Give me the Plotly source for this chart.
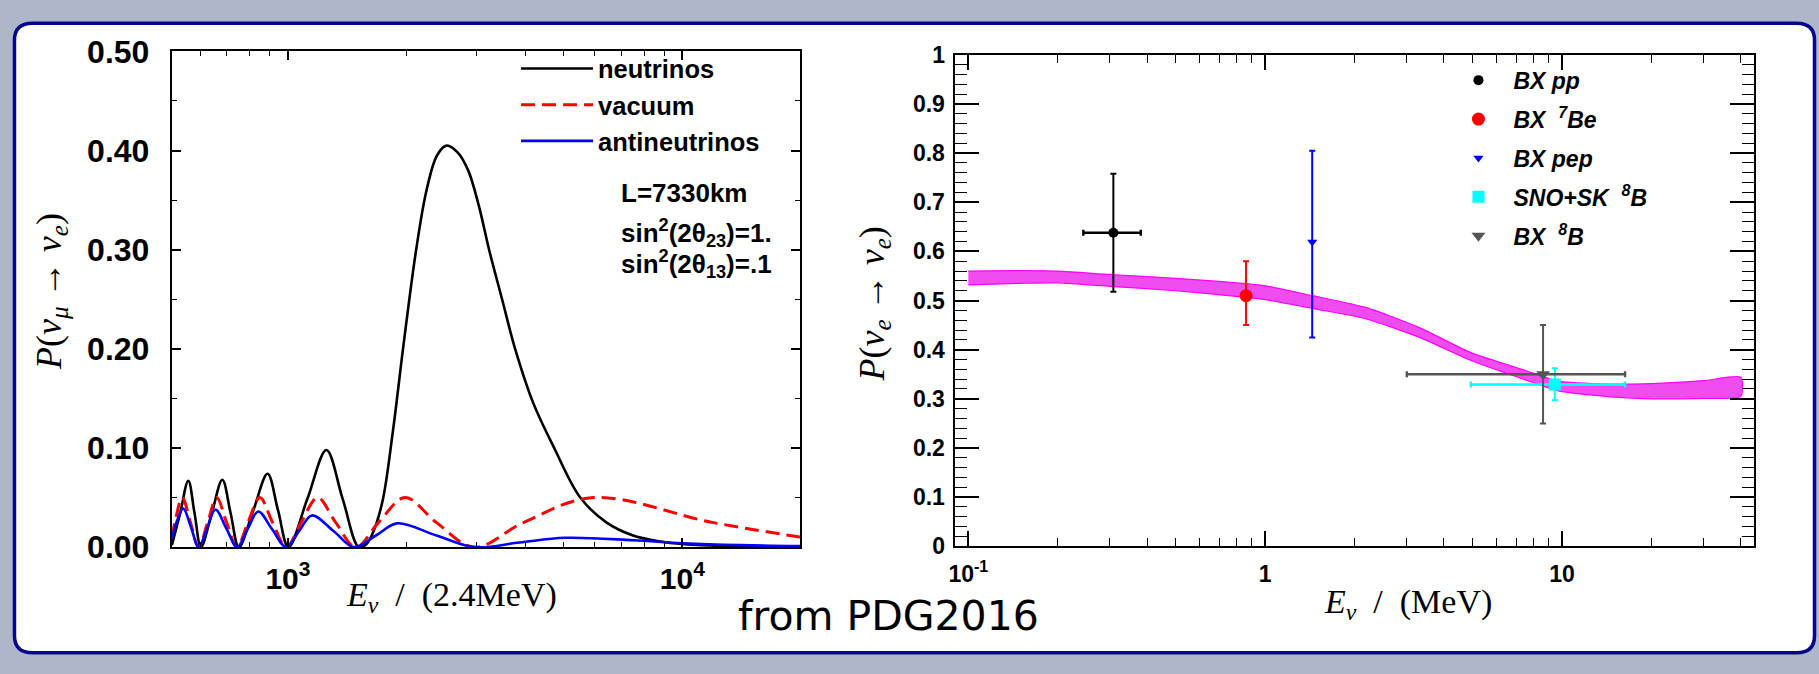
import plotly.graph_objects as go

# ---------------- data: left panel (P(nu_mu -> nu_e) vs E / 2.4 MeV) ----------------
nu_E = [508, 533, 559, 580, 602, 641, 682, 716, 751, 817, 888, 944, 1003, 1121, 1252, 1376,
        1512, 1580, 1632, 1734, 1843, 1958, 2114, 2246, 2387, 2521, 2696, 2864, 3045, 3236,
        3491, 3767, 4191, 4732, 5510, 6415, 7468, 8695, 10122, 13722, 20000]
nu_P = [0.002, 0.034, 0.067, 0.034, 0.0, 0.034, 0.068, 0.034, 0.0, 0.037, 0.074, 0.037, 0.0,
        0.049, 0.098, 0.049, 0.0, 0.003, 0.012, 0.045, 0.115, 0.200, 0.300, 0.360, 0.395,
        0.405, 0.398, 0.380, 0.345, 0.300, 0.250, 0.200, 0.145, 0.100, 0.050, 0.025, 0.012,
        0.006, 0.003, 0.001, 0.0]

vac_E = [508, 517, 540, 566, 594, 626, 660, 699, 743, 792, 849, 914, 991, 1081, 1189, 1321,
         1486, 1698, 1981, 2377, 2971, 3962, 5943, 11886, 20000]
vac_P = [0.010, 0.025, 0.050, 0.025, 0.0, 0.025, 0.050, 0.025, 0.0, 0.025, 0.050, 0.025, 0.0,
         0.025, 0.050, 0.025, 0.0, 0.025, 0.050, 0.025, 0.0, 0.025, 0.050, 0.025, 0.010]

anu_E = [508, 525, 543, 568, 594, 624, 655, 698, 743, 790, 841, 912, 990, 1067, 1150, 1307,
         1470, 1675, 1889, 2369, 2971, 3866, 5030, 7500, 10000, 14000, 20000]
anu_P = [0.009, 0.028, 0.039, 0.020, 0.0, 0.019, 0.038, 0.019, 0.0, 0.018, 0.036, 0.018, 0.0,
         0.016, 0.032, 0.016, 0.0, 0.012, 0.024, 0.012, 0.0, 0.0047, 0.0094, 0.007, 0.004,
         0.002, 0.001]

left_xticks = [1000, 10000]
left_xticktext = ["10<sup>3</sup>", "10<sup>4</sup>"]
left_xminor = [600, 700, 800, 900, 2000, 3000, 4000, 5000, 6000, 7000, 8000, 9000]

# ---------------- data: right panel (solar P(nu_e -> nu_e)) ----------------
band_E = [0.1, 0.15, 0.2, 0.3, 0.5, 0.7, 1.0, 1.44, 2.18, 3.28, 4.93, 7.41, 9.73, 14.6, 20, 30, 40]
band_hi = [0.560, 0.561, 0.560, 0.553, 0.545, 0.539, 0.530, 0.510, 0.486, 0.446, 0.394, 0.359,
           0.336, 0.330, 0.331, 0.337, 0.344]
band_lo = [0.532, 0.535, 0.536, 0.529, 0.520, 0.512, 0.502, 0.484, 0.463, 0.426, 0.378, 0.340,
           0.316, 0.304, 0.300, 0.301, 0.305]

pts_names = ["BX pp", "BX  <sup>7</sup>Be", "BX pep", "SNO+SK  <sup>8</sup>B", "BX  <sup>8</sup>B"]
pts_E = [0.308, 0.862, 1.44, 9.45, 8.63]
pts_P = [0.638, 0.510, 0.619, 0.329, 0.350]
pts_yerr_hi = [0.120, 0.070, 0.186, 0.033, 0.100]
pts_yerr_lo = [0.120, 0.060, 0.194, 0.032, 0.100]
pts_xerr_hi = [0.073, 0.0, 0.0, 6.85, 7.67]
pts_xerr_lo = [0.064, 0.0, 0.0, 4.52, 5.63]
pts_colors = ["#000000", "#ff0000", "#0000ff", "#00ffff", "#555555"]
pts_symbols = ["circle", "circle", "triangle-down", "square", "triangle-down"]
pts_sizes = [10, 13, 9, 12, 12]

right_xticks = [0.1, 1, 10]
right_xticktext = ["10<sup>-1</sup>", "1", "10"]
right_xminor = [0.2, 0.3, 0.4, 0.5, 0.6, 0.7, 0.8, 0.9, 2, 3, 4, 5, 6, 7, 8, 9, 20, 30, 40]
right_yticks = [0, 0.1, 0.2, 0.3, 0.4, 0.5, 0.6, 0.7, 0.8, 0.9, 1.0]
right_yticktext = ["0", "0.1", "0.2", "0.3", "0.4", "0.5", "0.6", "0.7", "0.8", "0.9", "1"]

# ---------------- figure ----------------
W, H = 1819, 674


def px(x):
    return x / W


def py(y):
    return 1 - y / H


fig = go.Figure()

fig.add_trace(go.Scatter(x=nu_E, y=nu_P, mode="lines", name="neutrinos",
                         line=dict(color="black", width=2.6, shape="spline", smoothing=1.0),
                         xaxis="x", yaxis="y", legend="legend"))
fig.add_trace(go.Scatter(x=vac_E, y=vac_P, mode="lines", name="vacuum",
                         line=dict(color="#ff0000", width=3, dash="14px,7px", shape="spline", smoothing=1.0),
                         xaxis="x", yaxis="y", legend="legend"))
fig.add_trace(go.Scatter(x=anu_E, y=anu_P, mode="lines", name="antineutrinos",
                         line=dict(color="#0000ff", width=2.6, shape="spline", smoothing=1.0),
                         xaxis="x", yaxis="y", legend="legend"))

# band (closed polygon)
fig.add_trace(go.Scatter(x=band_E + band_E[::-1], y=band_hi + band_lo[::-1], mode="lines",
                         fill="toself", fillcolor="#f04cf0",
                         line=dict(color="#ff00ff", width=1.2, shape="spline", smoothing=0.6),
                         xaxis="x2", yaxis="y2", showlegend=False, hoverinfo="skip"))

for i in range(len(pts_E)):
    fig.add_trace(go.Scatter(
        x=[pts_E[i]], y=[pts_P[i]], mode="markers", name=pts_names[i],
        marker=dict(color=pts_colors[i], symbol=pts_symbols[i], size=pts_sizes[i], line=dict(width=0)),
        error_y=dict(type="data", symmetric=False, array=[pts_yerr_hi[i]], arrayminus=[pts_yerr_lo[i]],
                     color=pts_colors[i], thickness=2, width=3),
        error_x=dict(type="data", symmetric=False, array=[pts_xerr_hi[i]], arrayminus=[pts_xerr_lo[i]],
                     color=pts_colors[i], thickness=2.4, width=3, visible=pts_xerr_hi[i] > 0),
        xaxis="x2", yaxis="y2", legend="legend2", legendgroup="p%d" % i))

SANS = "Liberation Sans"
bold_sans = dict(family=SANS, color="black", weight="bold")

fig.update_layout(
    width=W, height=H, margin=dict(l=0, r=0, t=0, b=0),
    paper_bgcolor="#aeb7c9", plot_bgcolor="white",
    xaxis=dict(domain=[px(165.3), px(796)], type="log", range=[2.7053, 4.298],
               tickmode="array", tickvals=left_xticks, ticktext=left_xticktext,
               ticks="inside", ticklen=9, tickwidth=1.5, tickcolor="black",
               showline=True, linecolor="black", linewidth=1.8, mirror="ticks",
               showgrid=False, zeroline=False,
               tickfont=dict(size=30, **bold_sans), ticklabelstandoff=4,
               minor=dict(tickmode="array", tickvals=left_xminor, ticks="inside", ticklen=5,
                          tickwidth=1.2, tickcolor="black", showgrid=False),
               anchor="y"),
    yaxis=dict(domain=[py(559), py(35.3)], range=[0, 0.5], tickmode="linear", tick0=0, dtick=0.1,
               tickformat=".2f", ticks="inside", ticklen=9, tickwidth=1.5, tickcolor="black",
               showline=True, linecolor="black", linewidth=1.8, mirror="ticks",
               showgrid=False, zeroline=False,
               tickfont=dict(size=32, **bold_sans), ticklabelstandoff=14,
               minor=dict(dtick=0.05, ticks="inside", ticklen=5, tickwidth=1.2, tickcolor="black",
                          showgrid=False),
               anchor="x"),
    xaxis2=dict(domain=[px(952), px(1754)], type="log", range=[-1.0438, 1.6474],
                tickmode="array", tickvals=right_xticks, ticktext=right_xticktext,
                ticks="inside", ticklen=15, tickwidth=1.5, tickcolor="black",
                showline=True, linecolor="black", linewidth=1.6, mirror="ticks",
                showgrid=False, zeroline=False,
                tickfont=dict(size=23, **bold_sans), ticklabelstandoff=6,
                minor=dict(tickmode="array", tickvals=right_xminor, ticks="inside", ticklen=8,
                           tickwidth=1.2, tickcolor="black", showgrid=False),
                anchor="y2"),
    yaxis2=dict(domain=[py(558), py(39)], range=[0, 1], tickmode="array",
                tickvals=right_yticks, ticktext=right_yticktext,
                ticks="inside", ticklen=24, tickwidth=1.5, tickcolor="black",
                showline=True, linecolor="black", linewidth=1.6, mirror="ticks",
                showgrid=False, zeroline=False,
                tickfont=dict(size=23, **bold_sans), ticklabelstandoff=4,
                minor=dict(dtick=0.02, ticks="inside", ticklen=12, tickwidth=1.2, tickcolor="black",
                           showgrid=False),
                anchor="x2"),
    legend=dict(x=px(511), y=py(29), xanchor="left", yanchor="top", bgcolor="rgba(0,0,0,0)",
                font=dict(size=25.5, **bold_sans), itemwidth=72),
    legend2=dict(x=px(1442), y=py(43), xanchor="left", yanchor="top", bgcolor="rgba(0,0,0,0)",
                 font=dict(size=23, style="italic", **bold_sans), traceorder="grouped",
                 tracegroupgap=6, itemwidth=60),
)

# slide frame (rounded rectangle)
x0, x1, y0, y1, r = 7.5, 1814.5, 5.5, 670.5, 18
path = (f"M {px(x0 + r)},{py(y0)} L {px(x1 - r)},{py(y0)} Q {px(x1)},{py(y0)} {px(x1)},{py(y0 + r)} "
        f"L {px(x1)},{py(y1 - r)} Q {px(x1)},{py(y1)} {px(x1 - r)},{py(y1)} "
        f"L {px(x0 + r)},{py(y1)} Q {px(x0)},{py(y1)} {px(x0)},{py(y1 - r)} "
        f"L {px(x0)},{py(y0 + r)} Q {px(x0)},{py(y0)} {px(x0 + r)},{py(y0)} Z")
fig.add_shape(type="path", path=path, xref="paper", yref="paper", layer="below",
              fillcolor="white", line=dict(color="#06068c", width=3.5))

serif = dict(family="Liberation Serif", color="black")


def ann(text, x, y, size, font, angle=0, xanchor="center"):
    fig.add_annotation(text=text, x=px(x), y=py(y), xref="paper", yref="paper", showarrow=False,
                       textangle=angle, xanchor=xanchor, yanchor="middle",
                       font=dict(size=size, **font))


ann("<i>P</i>(<i>ν</i><sub><i>μ</i></sub> → <i>ν</i><sub><i>e</i></sub>)", 44.5, 289, 36, serif, angle=-90)
ann("<i>E</i><sub><i>ν</i></sub>  /  (2.4MeV)", 446, 612, 34, serif)
ann("<i>P</i>(<i>ν</i><sub><i>e</i></sub> → <i>ν</i><sub><i>e</i></sub>)", 871, 302, 36, serif, angle=-90)
ann("<i>E</i><sub><i>ν</i></sub>  /  (MeV)", 1406, 619, 34, serif)
ann("from PDG2016", 885, 632, 41, dict(family="DejaVu Sans", color="black"))
ann("L=7330km", 614, 185, 26, bold_sans, xanchor="left")
ann("sin<sup>2</sup>(2θ<sub>23</sub>)=1.", 614, 227, 26, bold_sans, xanchor="left")
ann("sin<sup>2</sup>(2θ<sub>13</sub>)=.1", 614, 260, 26, bold_sans, xanchor="left")

fig.write_html("out.html", config={"displayModeBar": False},
               post_script="document.body.style.margin='0';document.body.style.overflow='hidden';")
